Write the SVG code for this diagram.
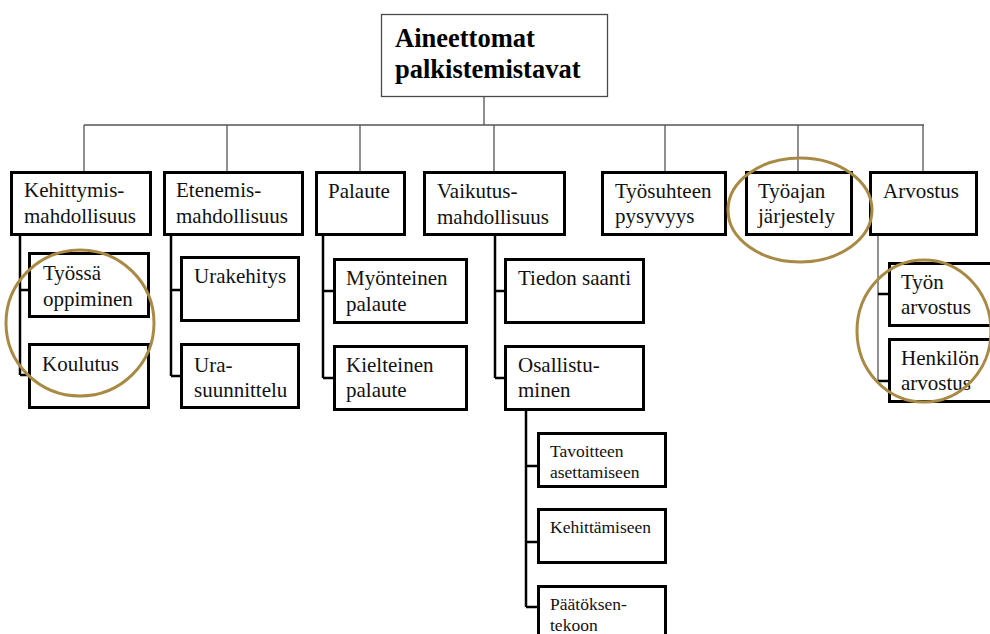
<svg xmlns="http://www.w3.org/2000/svg" width="990" height="634" viewBox="0 0 990 634" font-family="'Liberation Serif', serif">
  <style>
    text { fill: #111111; }
    .box { fill: #ffffff; stroke: #000000; stroke-width: 3; }
    .root { fill: #ffffff; stroke: #4a4a4a; stroke-width: 1.3; }
    .t { font-size: 21px; }
    .s { font-size: 17.5px; }
    .title { font-size: 26.5px; font-weight: bold; fill: #000000; }
    .thin { fill: none; stroke: #555555; stroke-width: 1.3; }
    .link { fill: none; stroke: #000000; stroke-width: 2.5; }
    .mark { fill: none; stroke: #a88a45; stroke-width: 3; }
  </style>

  <rect width="990" height="634" fill="#ffffff"/>

  <!-- connectors -->
  <g id="connectors">
    <path class="thin" d="M484 97 V125 M84 125 H924 M84 125 V171 M227 125 V171 M360 125 V171 M494 125 V171 M665 125 V171 M798 125 V171 M923 125 V171"/>
    <path class="link" stroke-width="2" d="M20 236 V375"/>
    <path class="link" d="M20 290 H29 M20 375 H29"/>
    <path class="link" d="M171 236 V376 M171 290 H181 M171 376 H181"/>
    <path class="link" d="M323 236 V378 M323 291 H334 M323 378 H334"/>
    <path class="link" d="M495 236 V378 M495 291 H505 M495 378 H505"/>
    <path class="link" d="M526 409 V607 M526 466 H538 M526 542 H538 M526 607 H538"/>
    <path class="thin" stroke="#000" stroke-width="1.6" d="M878 236 V381"/>
    <path class="link" d="M878 294 H889 M878 381 H889"/>
  </g>

  <!-- root -->
  <g id="root">
    <rect class="root" x="381.5" y="14.5" width="226" height="82"/>
    <text class="title" x="395" y="47">Aineettomat</text>
    <text class="title" x="395" y="78">palkistemistavat</text>
  </g>

  <!-- top-level categories -->
  <g id="kehittymis">
    <rect class="box" x="11.5" y="172.5" width="139" height="62"/>
    <text class="t" x="24" y="197">Kehittymis-</text>
    <text class="t" x="24" y="223">mahdollisuus</text>
  </g>
  <g id="etenemis">
    <rect class="box" x="164.5" y="172.5" width="138" height="62"/>
    <text class="t" x="176" y="197">Etenemis-</text>
    <text class="t" x="176" y="223">mahdollisuus</text>
  </g>
  <g id="palaute">
    <rect class="box" x="316.5" y="172.5" width="88" height="62"/>
    <text class="t" x="328" y="198">Palaute</text>
  </g>
  <g id="vaikutus">
    <rect class="box" x="424.5" y="172.5" width="140" height="62"/>
    <text class="t" x="437" y="198">Vaikutus-</text>
    <text class="t" x="437" y="224">mahdollisuus</text>
  </g>
  <g id="tyosuhde">
    <rect class="box" x="602.5" y="172.5" width="123" height="62"/>
    <text class="t" x="615" y="198">Työsuhteen</text>
    <text class="t" x="615" y="223">pysyvyys</text>
  </g>
  <g id="tyoaika">
    <rect class="box" x="746.5" y="172.5" width="105" height="62"/>
    <text class="t" x="758" y="198">Työajan</text>
    <text class="t" x="758" y="223">järjestely</text>
  </g>
  <g id="arvostus">
    <rect class="box" x="870.5" y="172.5" width="106" height="62"/>
    <text class="t" x="883" y="198">Arvostus</text>
  </g>

  <!-- sub-items -->
  <g id="tyossa-oppiminen">
    <rect class="box" x="29.5" y="253.5" width="119" height="63"/>
    <text class="t" x="43" y="280">Työssä</text>
    <text class="t" x="43" y="306">oppiminen</text>
  </g>
  <g id="koulutus">
    <rect class="box" x="29.5" y="344.5" width="119" height="63"/>
    <text class="t" x="42" y="371">Koulutus</text>
  </g>
  <g id="urakehitys">
    <rect class="box" x="181.5" y="257.5" width="117" height="63"/>
    <text class="t" x="194" y="283">Urakehitys</text>
  </g>
  <g id="urasuunnittelu">
    <rect class="box" x="181.5" y="344.5" width="117" height="63"/>
    <text class="t" x="194" y="372">Ura-</text>
    <text class="t" x="194" y="397">suunnittelu</text>
  </g>
  <g id="myonteinen">
    <rect class="box" x="334.5" y="259.5" width="132" height="63"/>
    <text class="t" x="346" y="285">Myönteinen</text>
    <text class="t" x="346" y="311">palaute</text>
  </g>
  <g id="kielteinen">
    <rect class="box" x="334.5" y="346.5" width="132" height="63"/>
    <text class="t" x="346" y="372">Kielteinen</text>
    <text class="t" x="346" y="397">palaute</text>
  </g>
  <g id="tiedon-saanti">
    <rect class="box" x="505.5" y="259.5" width="138" height="63"/>
    <text class="t" x="518" y="285">Tiedon saanti</text>
  </g>
  <g id="osallistuminen">
    <rect class="box" x="505.5" y="346.5" width="138" height="63"/>
    <text class="t" x="518" y="372">Osallistu-</text>
    <text class="t" x="518" y="397">minen</text>
  </g>
  <g id="tavoitteen">
    <rect class="box" x="538.5" y="433.5" width="127" height="53"/>
    <text class="s" x="550" y="457">Tavoitteen</text>
    <text class="s" x="550" y="478">asettamiseen</text>
  </g>
  <g id="kehittamiseen">
    <rect class="box" x="538.5" y="509.5" width="127" height="53"/>
    <text class="s" x="550" y="533">Kehittämiseen</text>
  </g>
  <g id="paatoksenteko">
    <rect class="box" x="538.5" y="586.5" width="127" height="60"/>
    <text class="s" x="550" y="610">Päätöksen-</text>
    <text class="s" x="550" y="631">tekoon</text>
  </g>
  <g id="tyon-arvostus">
    <rect class="box" x="889.5" y="263.5" width="110" height="62"/>
    <text class="t" x="901" y="289">Työn</text>
    <text class="t" x="901" y="314">arvostus</text>
  </g>
  <g id="henkilon-arvostus">
    <rect class="box" x="889.5" y="339.5" width="110" height="62"/>
    <text class="t" x="901" y="365">Henkilön</text>
    <text class="t" x="901" y="390">arvostus</text>
  </g>

  <!-- highlight ellipses -->
  <g id="highlights">
    <ellipse class="mark" cx="80" cy="323" rx="74" ry="73"/>
    <ellipse class="mark" cx="800" cy="210" rx="72" ry="52"/>
    <ellipse class="mark" cx="924" cy="331" rx="67" ry="71"/>
  </g>
</svg>
